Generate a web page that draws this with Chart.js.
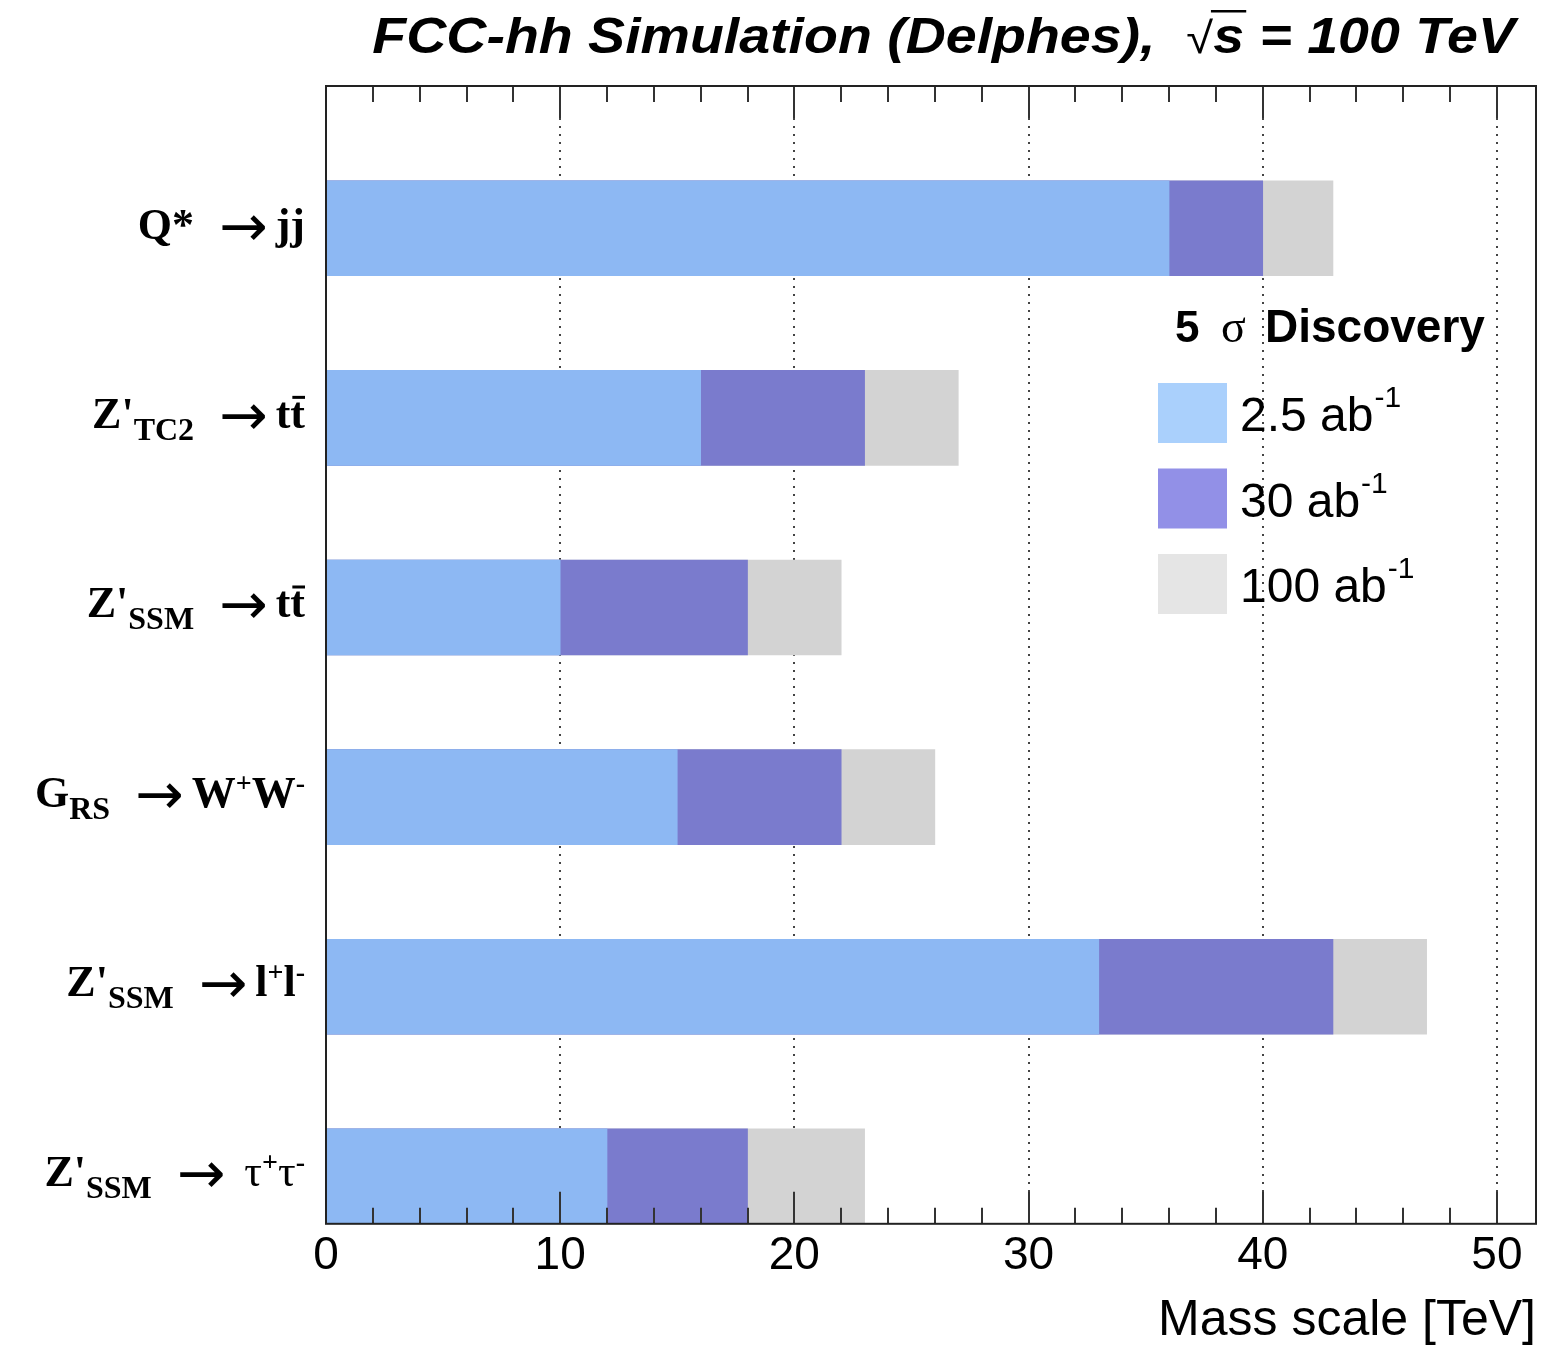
<!DOCTYPE html>
<html>
<head>
<meta charset="utf-8">
<script src="https://cdn.jsdelivr.net/npm/chart.js@4.4.1/dist/chart.umd.min.js"></script>
<style>
  html, body { margin: 0; padding: 0; background: #fff; }
  #wrap { width: 1543px; height: 1351px; }
</style>
</head>
<body>
<div id="wrap"><canvas id="chart" width="1543" height="1351"></canvas></div>
<script>
// channels, top to bottom
const channels = ['Q* → jj', "Z'TC2 → tt̄", "Z'SSM → tt̄", 'GRS → W+W-', "Z'SSM → l+l-", "Z'SSM → τ+τ-"];
// 5 sigma discovery reach [TeV] per integrated luminosity
const reach25 = [36, 16, 10, 15, 33, 12];
const reach30 = [40, 23, 18, 22, 43, 18];
const reach100 = [43, 27, 22, 26, 47, 23];
const lumiLabels = ['2.5 ab', '30 ab', '100 ab'];
const axisMax = 51.67;

// label pieces: n = normal, b = subscript, p = superscript, a = arrow, g = greek, o = overlined, s = space
const labelParts = [
  [['Q*', 'n'], ['→', 'a'], ['jj', 'n']],
  [["Z'", 'n'], ['TC2', 'b'], ['→', 'a'], ['t', 'n'], ['t', 'o']],
  [["Z'", 'n'], ['SSM', 'b'], ['→', 'a'], ['t', 'n'], ['t', 'o']],
  [['G', 'n'], ['RS', 'b'], ['→', 'a'], ['W', 'n'], ['+', 'p'], ['W', 'n'], ['-', 'p']],
  [["Z'", 'n'], ['SSM', 'b'], ['→', 'a'], ['l', 'n'], ['+', 'p'], ['l', 'n'], ['-', 'p']],
  [["Z'", 'n'], ['SSM', 'b'], ['→', 'a'], [' ', 's'], ['τ', 'g'], ['+', 'p'], ['τ', 'g'], ['-', 'p']]
];

const barColors = ['#8db8f3', '#7a7bcd', '#d3d3d3'];
const swatchColors = ['#aad0fc', '#9290e7', '#e5e5e5'];

const SERIF = '"Liberation Serif", "Times New Roman", serif';
const SANS = '"Liberation Sans", Arial, sans-serif';

const segStyle = {
  n: { font: 'bold 44px ' + SERIF, dy: 0 },
  o: { font: 'bold 44px ' + SERIF, dy: 0 },
  b: { font: 'bold 32px ' + SERIF, dy: 12 },
  p: { font: 'bold 28px ' + SERIF, dy: -15 },
  a: { font: '58px "DejaVu Sans", sans-serif', dy: 7, before: 25, after: 8 },
  g: { font: '44px ' + SERIF, dy: 0 },
  s: { font: '44px ' + SERIF, dy: 0 }
};

function drawLabel(ctx, parts, right, cy) {
  let w = 0, asc = 0, desc = 0;
  const items = parts.map(([t, k]) => {
    const st = segStyle[k];
    ctx.font = st.font;
    const m = ctx.measureText(t);
    const x0 = w + (st.before || 0);
    w = x0 + m.width + (st.after || 0);
    let a = m.actualBoundingBoxAscent - st.dy;
    if (k === 'o') a += 6;
    if (k !== 'a') {
      asc = Math.max(asc, a);
      desc = Math.max(desc, m.actualBoundingBoxDescent + st.dy);
    }
    return { t, k, st, x0, width: m.width, a: m.actualBoundingBoxAscent };
  });
  const base = cy + (asc - desc) / 2;
  const left = right - w;
  ctx.fillStyle = '#000';
  ctx.textBaseline = 'alphabetic';
  ctx.textAlign = 'left';
  items.forEach(it => {
    ctx.font = it.st.font;
    ctx.fillText(it.t, left + it.x0, base + it.st.dy);
    if (it.k === 'o') {
      ctx.fillRect(left + it.x0 + 2, base - it.a - 6, it.width - 2, 3);
    }
  });
}

function drawTitle(ctx) {
  const sx = 1.11;
  const fb = 'italic bold 50px ' + SANS;
  const fn = '44px ' + SANS;
  const segs = [['FCC-hh Simulation (Delphes),  ', fb], ['√', fn], ['s', fb], [' = 100 TeV', fb]];
  ctx.save();
  ctx.scale(sx, 1);
  let total = 0;
  segs.forEach(s => { ctx.font = s[1]; total += ctx.measureText(s[0]).width; });
  let x = 1515 / sx - total;
  const base = 53;
  ctx.fillStyle = '#000';
  ctx.textBaseline = 'alphabetic';
  ctx.textAlign = 'left';
  segs.forEach(s => {
    ctx.font = s[1];
    const w = ctx.measureText(s[0]).width;
    ctx.fillText(s[0], x, base);
    if (s[0] === 's') ctx.fillRect(x - 2, base - 43, w + 4, 2.5);
    x += w;
  });
  ctx.restore();
}

function drawLegend(ctx) {
  ctx.save();
  ctx.fillStyle = '#000';
  ctx.textBaseline = 'alphabetic';
  ctx.textAlign = 'left';
  ctx.font = 'bold 44px ' + SANS;
  ctx.fillText('5', 1175, 342);
  ctx.font = '46px ' + SERIF;
  ctx.fillText('σ', 1221, 342);
  ctx.font = 'bold 46px ' + SANS;
  ctx.fillText('Discovery', 1265, 342);

  lumiLabels.forEach((lab, i) => {
    const top = 383 + i * 85.5;
    ctx.fillStyle = swatchColors[i];
    ctx.fillRect(1158, top, 69, 60);
    ctx.fillStyle = '#000';
    ctx.font = '48px ' + SANS;
    ctx.fillText(lab, 1240, top + 48);
    const w = ctx.measureText(lab).width;
    ctx.font = '30px ' + SANS;
    ctx.fillText('-1', 1240 + w + 1, top + 24);
  });
  ctx.restore();
}

const frame = {
  id: 'frame',
  beforeDraw(chart) {
    const ctx = chart.ctx;
    ctx.save();
    ctx.fillStyle = '#fff';
    ctx.fillRect(0, 0, chart.width, chart.height);
    ctx.restore();
  },
  afterDatasetsDraw(chart) {
    const ctx = chart.ctx;
    const a = chart.chartArea;
    const xs = chart.scales.x;
    ctx.save();
    ctx.strokeStyle = '#333';
    ctx.lineWidth = 2;
    ctx.beginPath();
    for (let v = 2; v < axisMax; v += 2) {
      const px = Math.round(xs.getPixelForValue(v));
      const len = v % 10 === 0 ? 32 : 16;
      ctx.moveTo(px, a.top); ctx.lineTo(px, a.top + len);
      ctx.moveTo(px, a.bottom); ctx.lineTo(px, a.bottom - len);
    }
    ctx.stroke();
    ctx.strokeStyle = '#222';
    ctx.strokeRect(a.left, a.top, a.right - a.left, a.bottom - a.top);
    ctx.restore();
  },
  afterDraw(chart) {
    const ctx = chart.ctx;
    const ys = chart.scales.y;
    ctx.save();
    labelParts.forEach((parts, i) => drawLabel(ctx, parts, 305, ys.getPixelForValue(i)));
    drawTitle(ctx);
    drawLegend(ctx);
    ctx.restore();
  }
};

const toPoints = arr => arr.map((v, i) => ({ x: v, y: i }));

new Chart(document.getElementById('chart'), {
  type: 'bar',
  data: {
    datasets: [
      { label: lumiLabels[0], data: toPoints(reach25), backgroundColor: barColors[0] },
      { label: lumiLabels[1], data: toPoints(reach30), backgroundColor: barColors[1] },
      { label: lumiLabels[2], data: toPoints(reach100), backgroundColor: barColors[2] }
    ]
  },
  options: {
    indexAxis: 'y',
    responsive: false,
    animation: false,
    datasets: { bar: { grouped: false, barThickness: 95, borderWidth: 0 } },
    layout: { padding: { left: 326, top: 86, right: 7, bottom: 0 } },
    plugins: { legend: { display: false }, tooltip: { enabled: false } },
    scales: {
      x: {
        type: 'linear',
        min: 0,
        max: axisMax,
        position: 'bottom',
        ticks: {
          stepSize: 10,
          includeBounds: false,
          maxRotation: 0,
          padding: 5,
          color: '#000',
          font: { family: SANS, size: 46 }
        },
        grid: {
          drawTicks: false,
          lineWidth: 2,
          color: c => (c.tick && c.tick.value === 0) ? 'rgba(0,0,0,0)' : '#444'
        },
        border: { display: false, dash: [2, 6] },
        title: {
          display: true,
          text: 'Mass scale [TeV]',
          align: 'end',
          color: '#000',
          font: { family: SANS, size: 50 },
          padding: { top: 2, bottom: 0 }
        }
      },
      y: {
        type: 'linear',
        min: -0.75,
        max: 5.25,
        reverse: true,
        offset: false,
        display: false
      }
    }
  },
  plugins: [frame]
});
</script>
</body>
</html>
